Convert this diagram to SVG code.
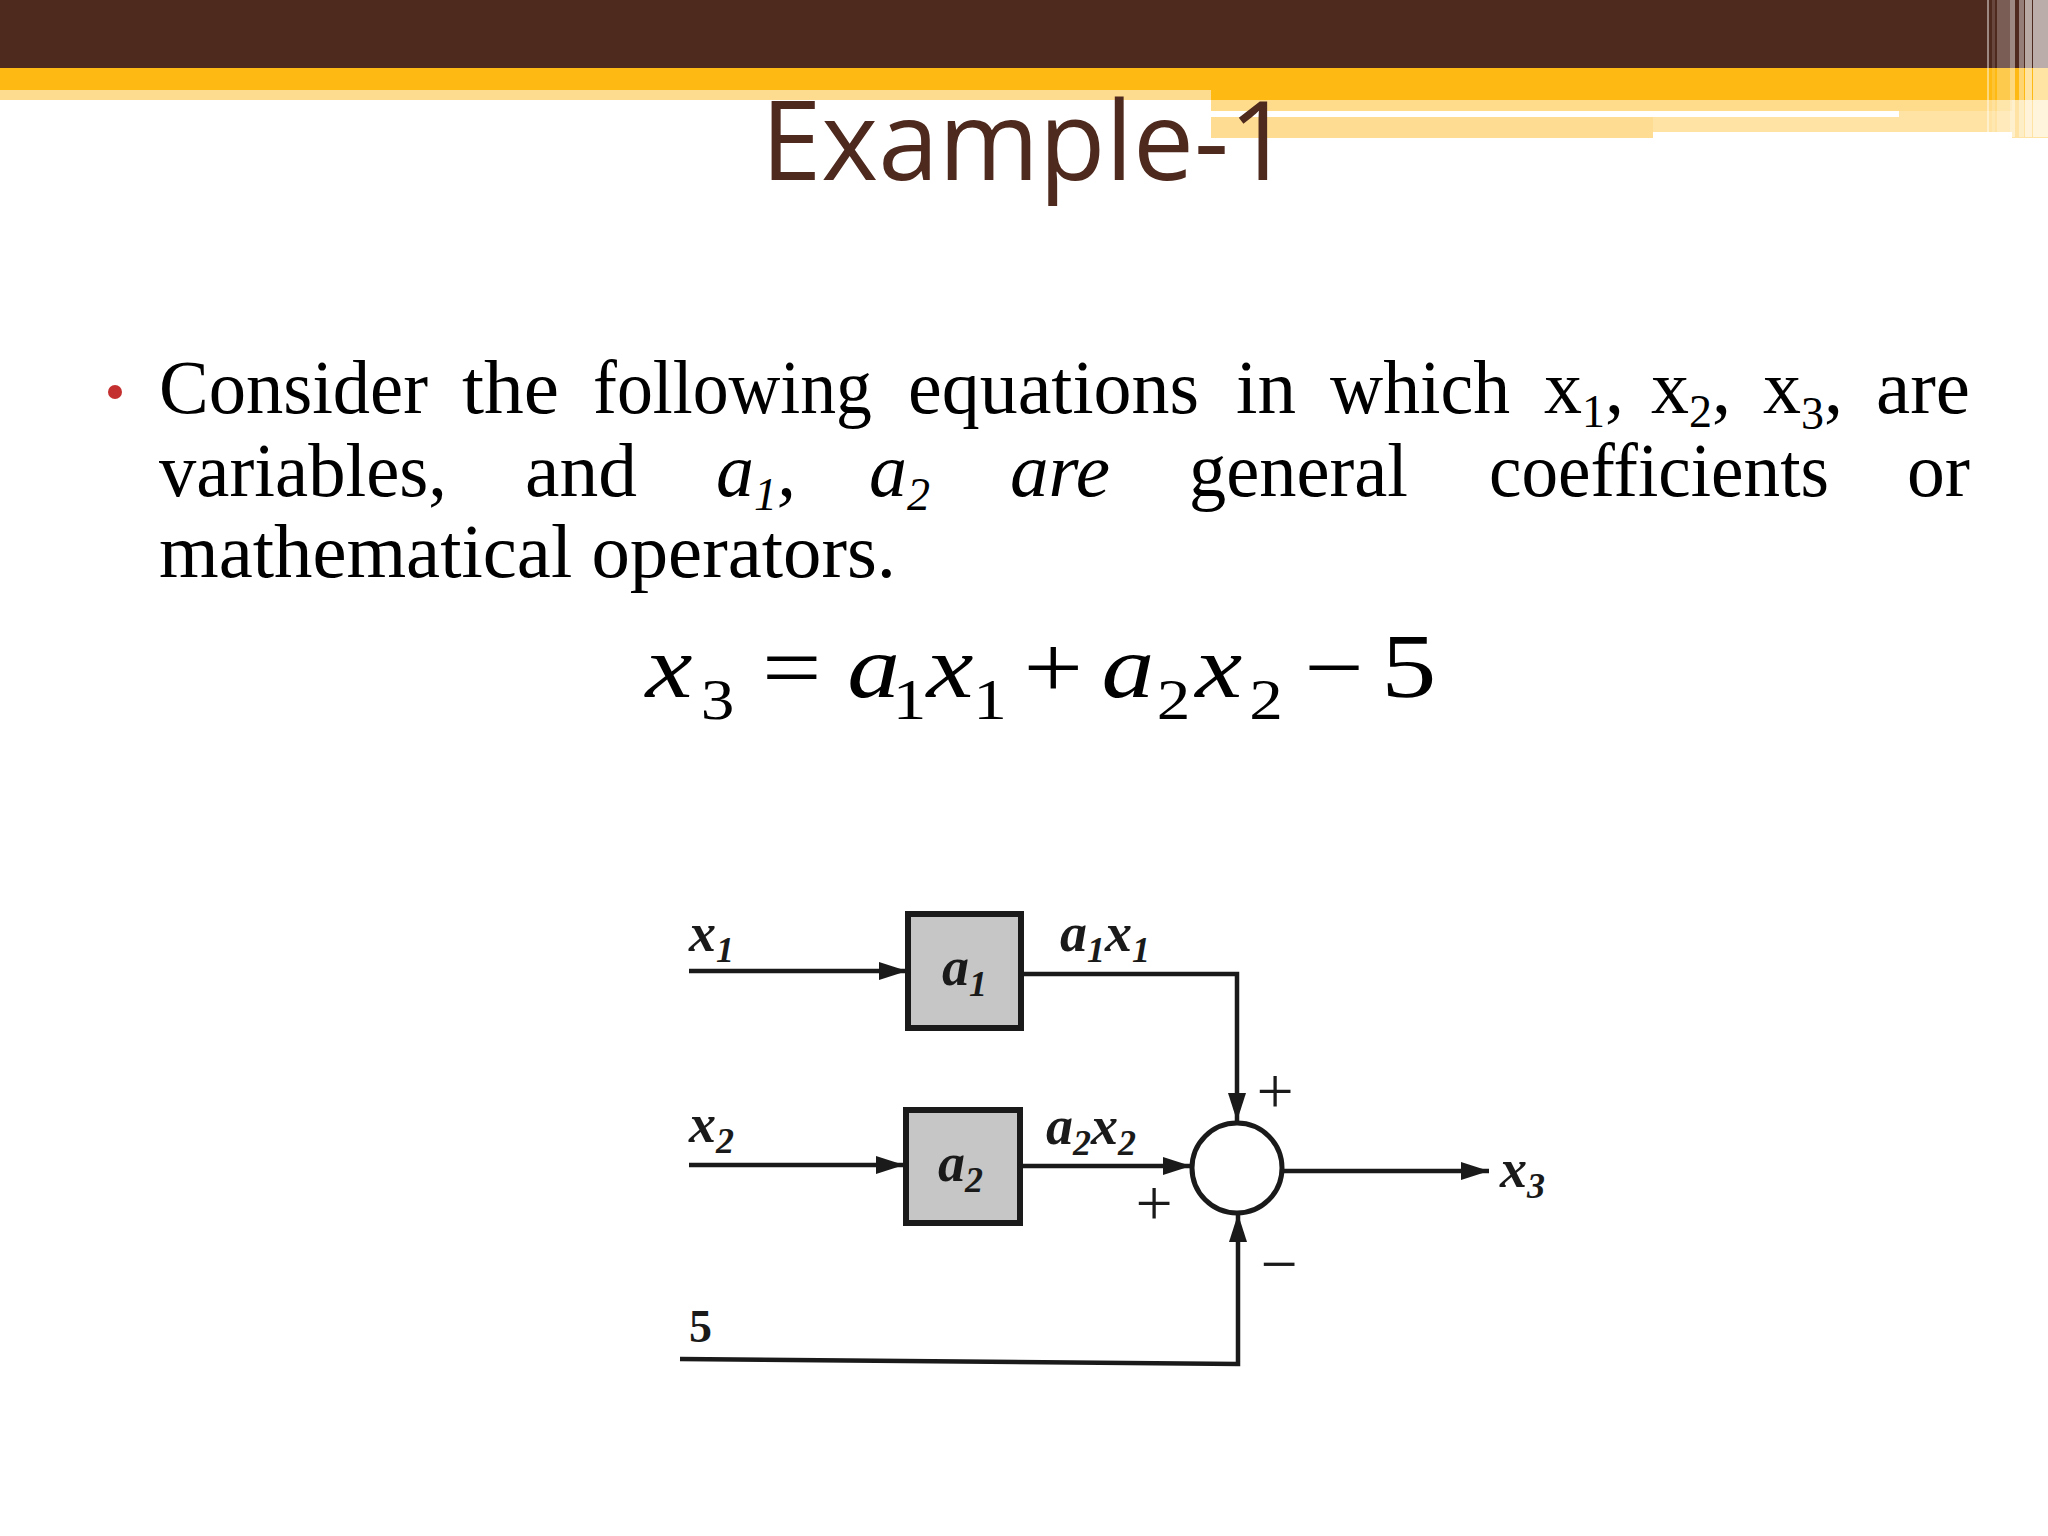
<svg xmlns="http://www.w3.org/2000/svg" width="2048" height="1536" viewBox="0 0 2048 1536">
<defs>
<style>
.body{font-family:"Liberation Serif",serif;font-size:76px;fill:#000}
.it{font-style:italic}
.eq{font-family:"Liberation Serif",serif;font-size:88px;fill:#000}
.eqs{font-family:"Liberation Serif",serif;font-size:56px;fill:#000}
.dl{font-family:"Liberation Serif",serif;font-weight:bold;font-style:italic;font-size:54px;fill:#1a1a1a}
.sub{font-size:36px}
.ds{font-family:"Liberation Serif",serif;font-weight:bold;font-size:46px;fill:#1a1a1a}
.sg{font-family:"Liberation Serif",serif;font-size:66px;fill:#1a1a1a;text-anchor:middle}
.wire{fill:none;stroke:#1a1a1a;stroke-width:4.5}
.box{fill:#c6c6c6;stroke:#1a1a1a;stroke-width:6}
</style>
<marker id="ah" markerUnits="userSpaceOnUse" markerWidth="30" markerHeight="20" refX="28" refY="9" orient="auto">
<path d="M0,0 L28,9 L0,18 Z" fill="#1a1a1a"/>
</marker>
</defs>
<rect width="2048" height="1536" fill="#fff"/>
<!-- header decoration -->
<rect x="0" y="0" width="2048" height="68" fill="#4e291d"/>
<rect x="0" y="68" width="2048" height="22" fill="#feb912"/>
<rect x="0" y="90" width="1211" height="10" fill="#fedc8f"/>
<rect x="1211" y="90" width="837" height="10" fill="#feb912"/>
<rect x="1211" y="100" width="837" height="11" fill="#fedc8c"/>
<rect x="1211" y="111" width="688" height="6" fill="#fff"/>
<rect x="1899" y="111" width="149" height="6" fill="#fee3a4"/>
<rect x="1211" y="117" width="442" height="21" fill="#fedd92"/>
<rect x="1653" y="117" width="359" height="15" fill="#fee3a4"/>
<rect x="2012" y="100" width="36" height="38" fill="#fee3a4"/>
<g fill="#fff">
<rect x="1987" y="0" width="2" height="137" opacity="0.45"/>
<rect x="1992" y="0" width="3" height="137" opacity="0.15"/>
<rect x="1997" y="0" width="13" height="137" opacity="0.25"/>
<rect x="2010" y="0" width="5" height="137" opacity="0.45"/>
<rect x="2019" y="0" width="5" height="137" opacity="0.4"/>
<rect x="2025" y="0" width="7" height="137" opacity="0.6"/>
<rect x="2033" y="0" width="15" height="137" opacity="0.62"/>
</g>
<text x="761" y="180" font-family="Open Sans, sans-serif" font-size="110" fill="#4e291d" textLength="530" lengthAdjust="spacingAndGlyphs">Example-1</text>
<!-- bullet text -->
<circle cx="115" cy="392" r="7" fill="#c43030"/>
<g class="body">
<text x="159" y="413" textLength="269" lengthAdjust="spacingAndGlyphs">Consider</text>
<text x="462" y="413" textLength="97" lengthAdjust="spacingAndGlyphs">the</text>
<text x="593" y="413" textLength="279" lengthAdjust="spacingAndGlyphs">following</text>
<text x="908" y="413" textLength="291" lengthAdjust="spacingAndGlyphs">equations</text>
<text x="1236" y="413" textLength="60" lengthAdjust="spacingAndGlyphs">in</text>
<text x="1330" y="413" textLength="180" lengthAdjust="spacingAndGlyphs">which</text>
<text x="1544" y="413">x<tspan font-size="46" dy="14">1</tspan><tspan dy="-14">,</tspan></text>
<text x="1651" y="413">x<tspan font-size="46" dy="14">2</tspan><tspan dy="-14">,</tspan></text>
<text x="1763" y="413">x<tspan font-size="46" dy="16">3</tspan><tspan dy="-16">,</tspan></text>
<text x="1876" y="413" textLength="94" lengthAdjust="spacingAndGlyphs">are</text>
<text x="159" y="496" textLength="288" lengthAdjust="spacingAndGlyphs">variables,</text>
<text x="525" y="496" textLength="112" lengthAdjust="spacingAndGlyphs">and</text>
<text x="716" y="496" class="it">a<tspan font-size="46" dy="14">1</tspan><tspan dy="-14">,</tspan></text>
<text x="869" y="496" class="it">a<tspan font-size="46" dy="14">2</tspan></text>
<text x="1010" y="496" class="it" textLength="100" lengthAdjust="spacingAndGlyphs">are</text>
<text x="1189" y="496" textLength="219" lengthAdjust="spacingAndGlyphs">general</text>
<text x="1489" y="496" textLength="340" lengthAdjust="spacingAndGlyphs">coefficients</text>
<text x="1907" y="496" textLength="63" lengthAdjust="spacingAndGlyphs">or</text>
<text x="159" y="577" textLength="737" lengthAdjust="spacingAndGlyphs">mathematical operators.</text>
</g>
<!-- equation -->
<g id="equation" transform="scale(1.2,1)">
<text class="eq it" x="538" y="697">x</text>
<text class="eqs" x="584" y="719">3</text>
<text class="eq" x="635" y="697">=</text>
<text class="eq it" x="706" y="697">a</text>
<text class="eqs" x="744" y="719">1</text>
<text class="eq it" x="772" y="697">x</text>
<text class="eqs" x="811" y="719">1</text>
<text class="eq" x="853" y="697">+</text>
<text class="eq it" x="918" y="697">a</text>
<text class="eqs" x="964" y="719">2</text>
<text class="eq it" x="996" y="697">x</text>
<text class="eqs" x="1041" y="719">2</text>
<text class="eq" x="1087" y="697">−</text>
<text class="eq" x="1151" y="697" style="font-size:92px">5</text>
</g>
<!-- diagram -->
<g id="connectors">
<path class="wire" d="M689 971 L907 971" marker-end="url(#ah)"/>
<path class="wire" d="M1021 974 L1237 974 L1237 1121" marker-end="url(#ah)"/>
<path class="wire" d="M689 1165 L904 1165" marker-end="url(#ah)"/>
<path class="wire" d="M1020 1166 L1191 1166" marker-end="url(#ah)"/>
<path class="wire" d="M1283 1171 L1489 1171" marker-end="url(#ah)"/>
<path class="wire" d="M680 1359 L1238 1364 L1238 1214" marker-end="url(#ah)"/>
</g>
<g id="block-a1">
<rect class="box" x="908" y="914" width="113" height="114"/>
<text class="dl" x="942" y="985">a<tspan class="sub" dy="11">1</tspan></text>
</g>
<g id="block-a2">
<rect class="box" x="906" y="1110" width="114" height="113"/>
<text class="dl" x="938" y="1181">a<tspan class="sub" dy="11">2</tspan></text>
</g>
<g id="summer">
<circle cx="1237" cy="1168" r="45" fill="#fff" stroke="#1a1a1a" stroke-width="5"/>
</g>
<g id="labels">
<text class="dl" x="689" y="951">x<tspan class="sub" dy="11">1</tspan></text>
<text class="dl" x="1060" y="951">a<tspan class="sub" dy="11">1</tspan><tspan dy="-11">x</tspan><tspan class="sub" dy="11">1</tspan></text>
<text class="dl" x="689" y="1142">x<tspan class="sub" dy="11">2</tspan></text>
<text class="dl" x="1046" y="1144">a<tspan class="sub" dy="11">2</tspan><tspan dy="-11">x</tspan><tspan class="sub" dy="11">2</tspan></text>
<text class="dl" x="1500" y="1187">x<tspan class="sub" dy="11">3</tspan></text>
<text class="ds" x="689" y="1342">5</text>
<text class="sg" x="1275" y="1113">+</text>
<text class="sg" x="1154" y="1225">+</text>
<text class="sg" x="1279" y="1286">−</text>
</g>
</svg>
